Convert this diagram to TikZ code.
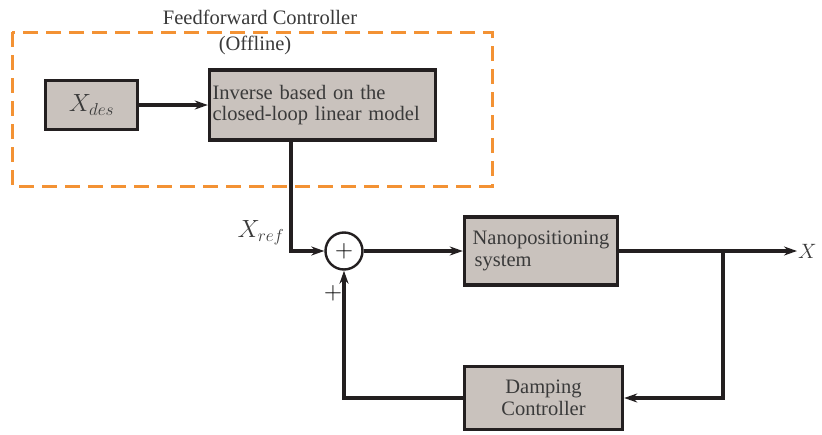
\documentclass[tikz,border=0pt]{standalone}
\usepackage{fontspec}
\setmainfont{Liberation Serif}
\usetikzlibrary{positioning,arrows.meta}
\definecolor{boxfill}{HTML}{C9C2BD}
\definecolor{edge}{HTML}{231F20}
\definecolor{ffwd}{HTML}{F39234}
\definecolor{txt}{HTML}{3A3A3A}
\tikzset{
  block/.style={rectangle, draw=edge, line width=3.4pt, fill=boxfill, inner sep=3pt,
                font=\fontsize{20.5}{21.5}\selectfont, text=txt},
  sumnode/.style={circle, draw=edge, line width=2.4pt, fill=white, minimum size=37pt, inner sep=0pt,
                  font=\fontsize{24}{24}\selectfont},
  sig/.style={draw=edge, line width=3.2pt},
  arr/.style={sig, -{Stealth[length=13pt,width=9pt]}},
  label/.style={font=\fontsize{20.5}{21.5}\selectfont, text=txt},
  ffbox/.style={draw=ffwd, line width=3pt, dash pattern=on 15pt off 8pt},
}

\begin{document}
\begin{tikzpicture}[x=1pt,y=-1pt]
  \useasboundingbox (0,0) rectangle (822,434);
  % feedforward part (offline)
  \draw[ffbox] (12,32) rectangle (492,186);
  \node[label] (fftitle) at (260,17) {Feedforward Controller};
  \node[label] (offline) at (255,45) {(Offline)};
  \node[block, minimum width=92pt, minimum height=49pt, font=\fontsize{26}{26}\selectfont] (xdes) at (91.5,105) {$X_{des}$};
  \node[block, text width=220pt, minimum height=70pt, align=left] (inv) at (322.5,105)
    {Inverse based on the\\closed-loop linear model};
  \draw[arr] (xdes) -- (inv);
  % loop
  \node[sumnode] (sum) at (344,251) {$+$};
  \node[block, minimum width=153pt, minimum height=68pt, align=left] (plant) at (541,251)
    {Nanopositioning\\\hspace{2pt}system};
  \node[block, minimum width=158pt, minimum height=63pt, align=center] (damp) at (543.5,398)
    {Damping\\Controller};
  \coordinate (branch) at (723,251);
  \coordinate (out) at (797,251);
  \draw[arr] ([xshift=-31.5pt]inv.south) |- (sum);
  \node[label, font=\fontsize{23}{23}\selectfont] (xref) at (261,233) {$X_{ref}$};
  \draw[arr] (sum) -- (plant);
  \draw[arr] (plant) -- (out);
  \node[label, anchor=west, inner sep=1pt] (xout) at (out) {$X$};
  \draw[arr] (branch) |- (damp.east);
  \draw[arr] (damp.west) -| (sum.south);
  \node[font=\fontsize{24}{24}\selectfont] (plus) at (333,293) {$+$};
\end{tikzpicture}
\end{document}
